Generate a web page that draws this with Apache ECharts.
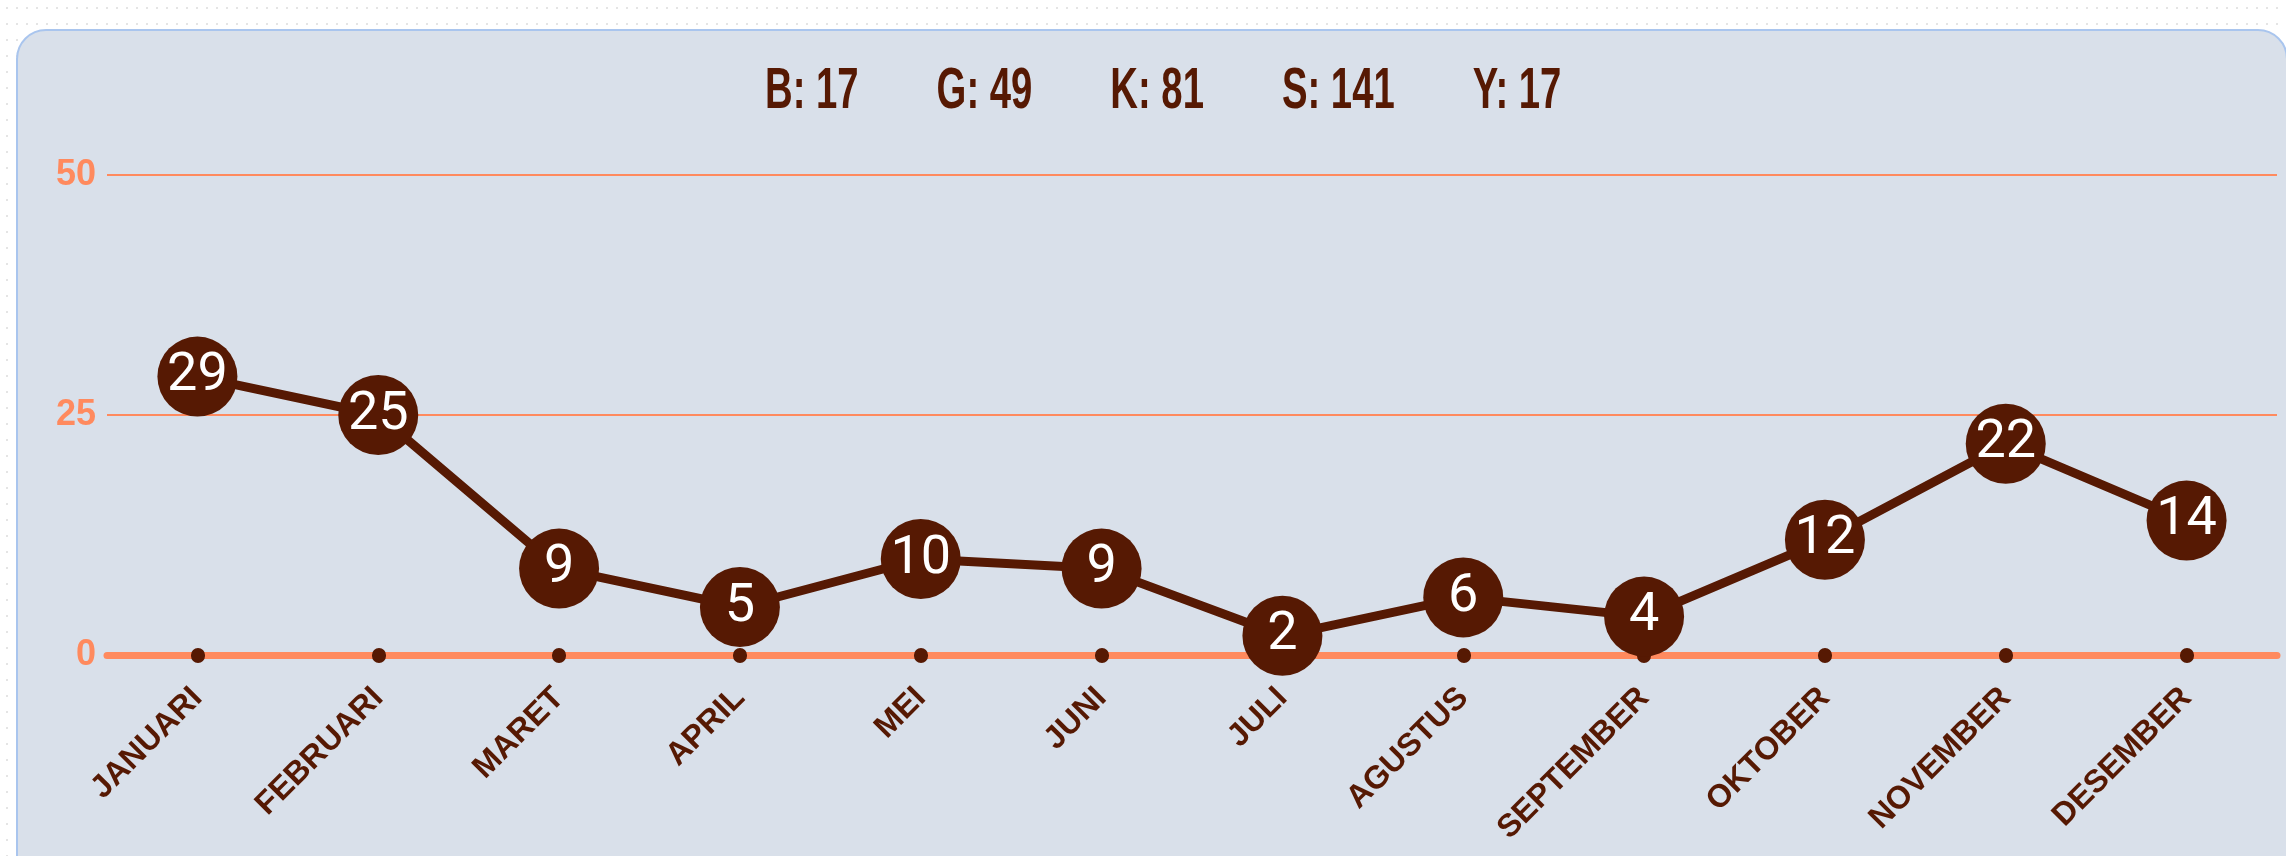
<!DOCTYPE html>
<html>
<head>
<meta charset="utf-8">
<script src="https://cdn.jsdelivr.net/npm/echarts@6/dist/echarts.min.js"></script>
<style>
  html, body { margin: 0; padding: 0; }
  body {
    width: 2286px; height: 856px; overflow: hidden; position: relative;
    background-color: #fff;
    background-image: radial-gradient(circle, #d6d6d6 0.6px, transparent 0.9px);
    background-size: 10px 16px;
    background-position: 2px 0px;
  }
  #panel {
    position: absolute; left: 16px; top: 29px; width: 2272px; height: 900px;
    box-sizing: border-box; background: #d9e0ea;
    border: 2px solid #a9c5ee; border-radius: 30px;
  }
  #main { position: absolute; left: 0; top: 0; width: 2286px; height: 856px; }
</style>
</head>
<body>
<div id="panel"></div>
<div id="main"></div>
<script>
// data
const months = ['JANUARI', 'FEBRUARI', 'MARET', 'APRIL', 'MEI', 'JUNI', 'JULI',
  'AGUSTUS', 'SEPTEMBER', 'OKTOBER', 'NOVEMBER', 'DESEMBER'];
const counts = [29, 25, 9, 5, 10, 9, 2, 6, 4, 12, 22, 14];
const legendKeys = ['B', 'G', 'K', 'S', 'Y'];
const legendTotals = [17, 49, 81, 141, 17];
const yTicks = [0, 25, 50];

const brown = '#561903';
const orange = '#ff8a5e';

const chart = echarts.init(document.getElementById('main'));

// totals row on top: condensed bold text, laid out left to right
const legendFont = 'bold 58px "Liberation Sans", Arial, sans-serif';
const squeeze = 0.66;
const gap = 78;
const ctx = document.createElement('canvas').getContext('2d');
ctx.font = legendFont;
let x = 765;
const legendTexts = legendKeys.map((k, i) => {
  const txt = k + ': ' + legendTotals[i];
  const el = {
    type: 'text',
    x: x, y: 92,
    scaleX: squeeze,
    style: {
      text: txt, fill: brown, font: legendFont,
      textAlign: 'left', textVerticalAlign: 'middle'
    }
  };
  x += ctx.measureText(txt).width * squeeze + gap;
  return el;
});

const option = {
  animation: false,
  backgroundColor: 'transparent',
  graphic: legendTexts,
  grid: { left: 107, right: 9, top: 175, bottom: 201 },
  xAxis: {
    type: 'category',
    data: months,
    boundaryGap: true,
    axisLine: { lineStyle: { color: orange, width: 7, cap: 'round' } },
    axisTick: {
      show: true, alignWithLabel: true, length: 1,
      lineStyle: { color: brown, width: 14, cap: 'round' }
    },
    axisLabel: {
      interval: 0, rotate: 45, margin: 38,
      color: brown, fontWeight: 'bold', fontSize: 32,
      fontFamily: '"Liberation Sans", Arial, sans-serif'
    },
    splitLine: { show: false }
  },
  yAxis: {
    type: 'value',
    min: yTicks[0],
    max: yTicks[yTicks.length - 1],
    interval: yTicks[1] - yTicks[0],
    axisLine: { show: false },
    axisTick: { show: false },
    axisLabel: {
      color: orange, fontWeight: 'bold', fontSize: 36, margin: 11,
      fontFamily: '"Liberation Sans", Arial, sans-serif'
    },
    splitLine: { lineStyle: { color: orange, width: 2 } }
  },
  series: [
    {
      type: 'line',
      data: counts,
      symbol: 'circle',
      symbolSize: 80,
      color: brown,
      lineStyle: { color: brown, width: 9 },
      itemStyle: { color: brown },
      label: {
        show: true, position: 'inside',
        color: '#fff', fontSize: 54,
        fontFamily: 'Roboto, sans-serif'
      },
      z: 5
    }
  ]
};

option && chart.setOption(option);
</script>
</body>
</html>
